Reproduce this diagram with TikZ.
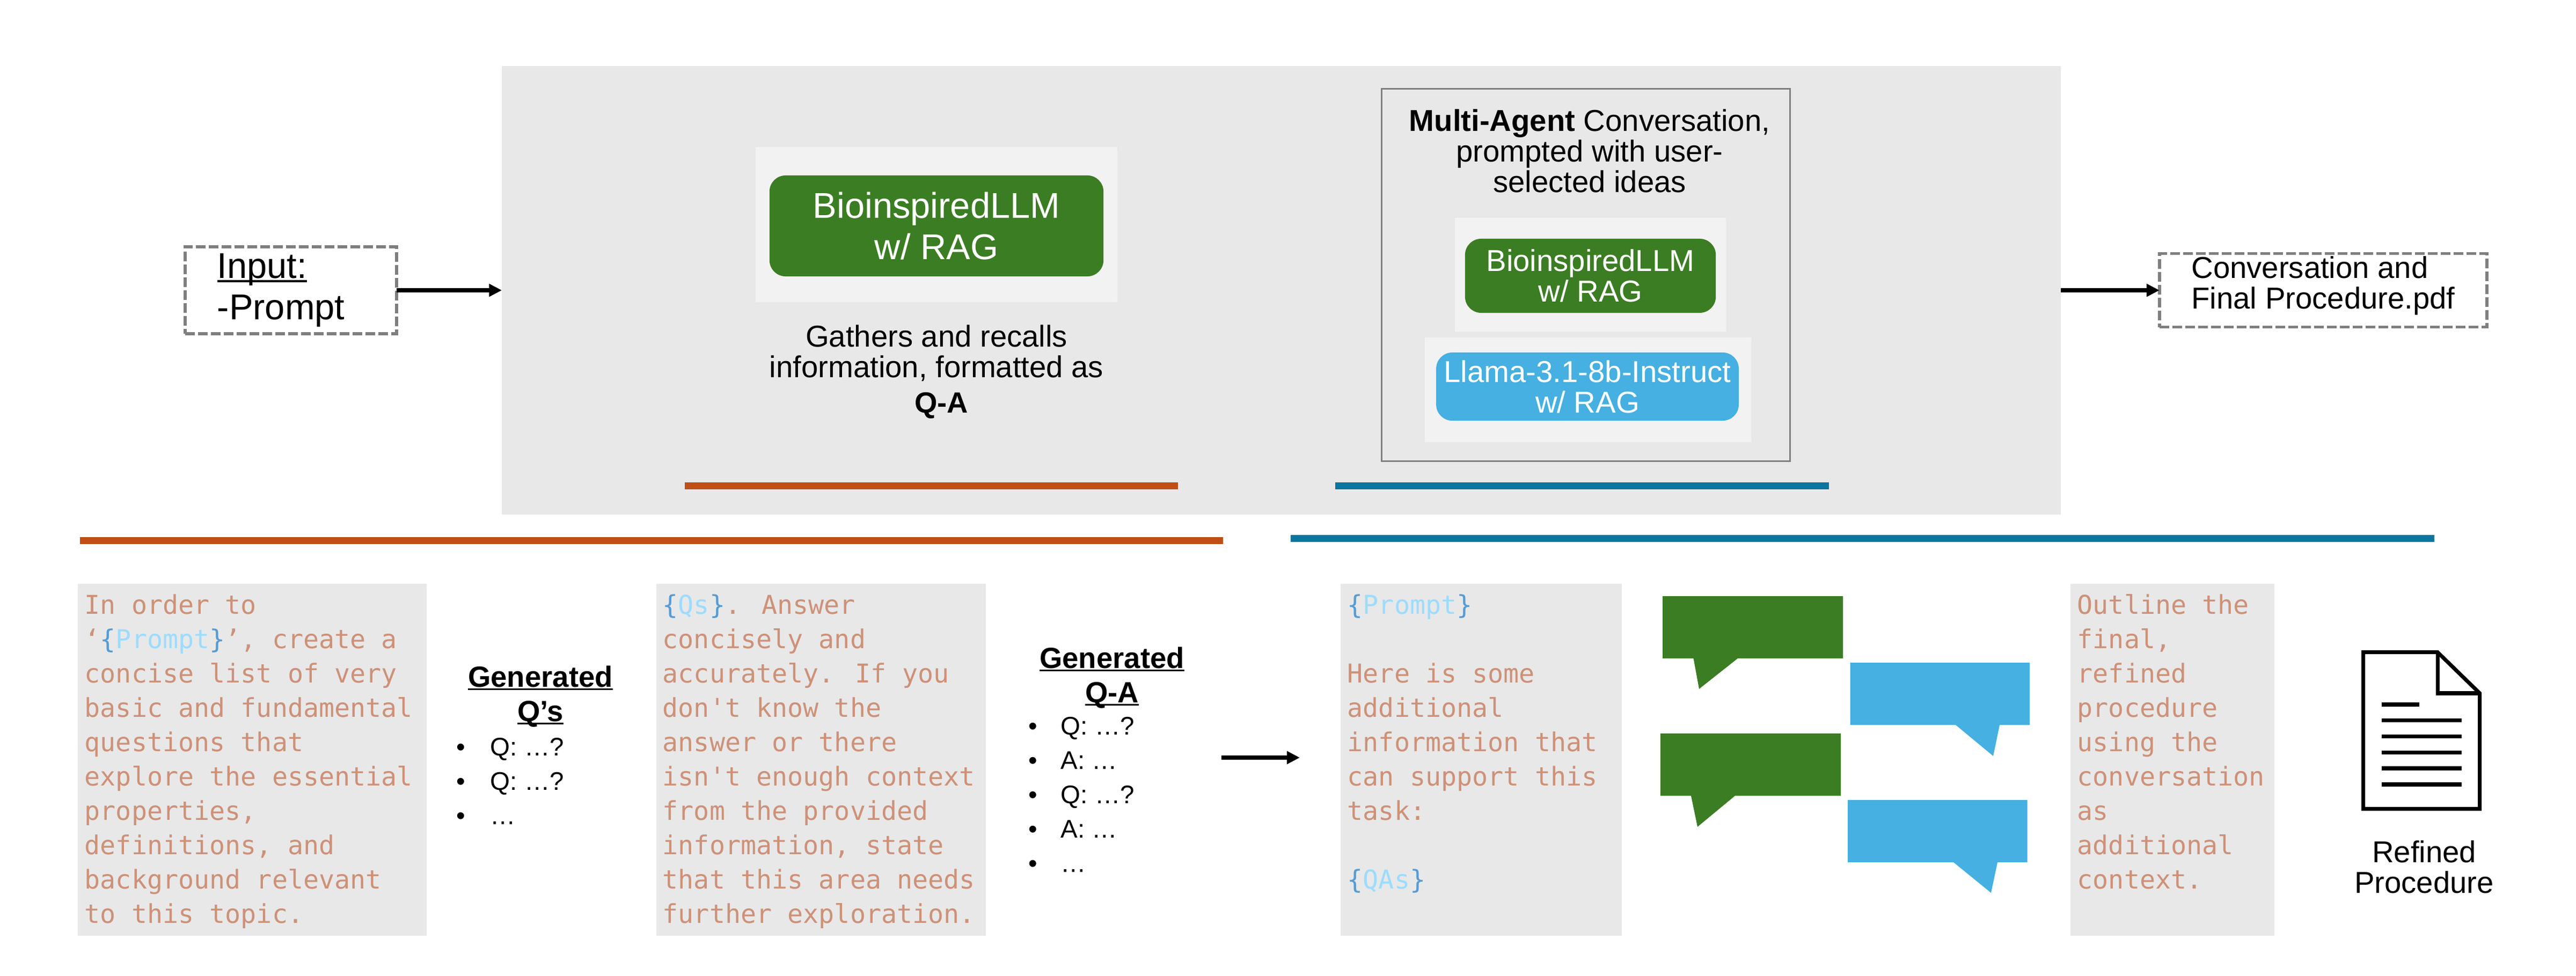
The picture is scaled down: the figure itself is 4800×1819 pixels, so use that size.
\documentclass[tikz,border=0pt]{standalone}
\usepackage{fontspec}
\setmainfont{Liberation Sans}
\newfontfamily\codefont[Ligatures=NoCommon]{DejaVu Sans Mono}
\usetikzlibrary{arrows.meta}

\definecolor{panelgrey}{HTML}{E8E8E8}
\definecolor{lightgrey}{HTML}{F2F2F2}
\definecolor{dashgrey}{HTML}{7F7F7F}
\definecolor{leafgreen}{HTML}{3B7D23}
\definecolor{skyblue}{HTML}{45B0E1}
\definecolor{rustorange}{HTML}{C04F15}
\definecolor{deepteal}{HTML}{0B769F}
\definecolor{codetext}{HTML}{CE9178}
\definecolor{codevar}{HTML}{9CDCFE}
\definecolor{codebrace}{HTML}{569CD6}

\newcommand{\codevar}[1]{\textcolor{codebrace}{\{}\textcolor{codevar}{#1}\textcolor{codebrace}{\}}}
\newcommand{\listline}[2]{\makebox[#1][l]{•}#2}
\newsavebox{\rulebox}
\newcommand{\barred}[1]{\sbox{\rulebox}{#1}\rlap{\rule[-0.11em]{\wd\rulebox}{0.065em}}\usebox{\rulebox}}

\begin{document}
\begin{tikzpicture}[
    x=0.01cm, y=-0.01cm,
    fillbox/.style={inner sep=0pt, outer sep=0pt},
    greybox/.style={fillbox, fill=panelgrey},
    lightbox/.style={fillbox, fill=lightgrey},
    modelgreen/.style={fillbox, fill=leafgreen, rounded corners=0.3cm, text=white, align=center},
    modelblue/.style={fillbox, fill=skyblue, rounded corners=0.3cm, text=white, align=center},
    dashbox/.style={draw=dashgrey, line width=1.6pt, dash pattern=on 18*0.01cm off 6*0.01cm, inner sep=0pt, outer sep=0pt},
    flowarrow/.style={line width=2pt, -{Triangle[length=6.8pt,width=6.5pt]}},
    bigtext/.style={font=\fontsize{19pt}{21.9pt}\selectfont},
    midtext/.style={font=\fontsize{16pt}{16.2pt}\selectfont},
    titletext/.style={font=\bfseries\fontsize{15.5pt}{18.2pt}\selectfont, align=center, inner sep=0pt},
    listtext/.style={font=\fontsize{13.5pt}{18.2pt}\selectfont, align=left, inner sep=0pt, anchor=north west},
    prompttext/.style={font=\codefont\fontsize{13.75pt}{18.2pt}\selectfont, text=codetext, align=left, inner sep=0pt, anchor=north west},
    bubblegreen/.style={fill=leafgreen},
    bubbleblue/.style={fill=skyblue},
    icon/.style={draw=black, line width=2pt, miter limit=10}]

\useasboundingbox (0,0) rectangle (4800,1819);

\node[greybox, minimum width=29.03cm, minimum height=8.36cm] (panel) at (2387.5,541) {};

\node[dashbox, minimum width=3.94cm, minimum height=1.62cm, text width=2.74cm, align=left, bigtext] (inputbox) at (542,541) {\barred{Input:}\\-Prompt};
\node[dashbox, minimum width=6.10cm, minimum height=1.37cm, align=left, midtext, text depth=0.28cm] (outputbox) at (4329,541) {Conversation and\\Final Procedure.pdf};

\draw[flowarrow] (inputbox.east) -- (panel.west);
\draw[flowarrow] (panel.east) -- (outputbox.west);

\node[lightbox, minimum width=6.74cm, minimum height=2.89cm] (ragback) at (1745,418.5) {};
\node[modelgreen, minimum width=6.22cm, minimum height=1.88cm, bigtext] (ragmodel) at (1745,421) {BioinspiredLLM\\w/ RAG};
\node[midtext, align=center, inner sep=0pt] (gathertext) at (1745,658) {Gathers and recalls\\information, formatted as};
\node[midtext, font=\bfseries\fontsize{15.5pt}{16pt}\selectfont, inner sep=0pt] (qatext) at (1754,756) {Q-A};

\node[draw=dashgrey, line width=0.9pt, fillbox, minimum width=7.60cm, minimum height=6.93cm] (multibox) at (2955,512.5) {};
\node[midtext, align=center, inner sep=0pt] (multitext) at (2962,281) {\textbf{Multi-Agent} Conversation,\\prompted with user-\\selected ideas};
\node[lightbox, minimum width=5.05cm, minimum height=2.12cm] (greenback) at (2963.5,512) {};
\node[modelgreen, minimum width=4.67cm, minimum height=1.38cm, midtext] (greenmodel) at (2963.5,514) {BioinspiredLLM\\w/ RAG};
\node[lightbox, minimum width=6.08cm, minimum height=1.95cm] (blueback) at (2959,726.5) {};
\node[modelblue, minimum width=5.635cm, minimum height=1.27cm, midtext] (bluemodel) at (2958,720.5) {Llama-3.1-8b-Instruct\\w/ RAG};

\node[fillbox, fill=rustorange, minimum width=9.19cm, minimum height=0.13cm] (qabar) at (1735.5,905.5) {};
\node[fillbox, fill=deepteal, minimum width=9.20cm, minimum height=0.13cm] (chatbar) at (2948,905.5) {};
\node[fillbox, fill=rustorange, minimum width=21.28cm, minimum height=0.13cm] (leftrule) at (1214,1007.5) {};
\node[fillbox, fill=deepteal, minimum width=21.29cm, minimum height=0.13cm] (rightrule) at (3470.5,1003.5) {};

\node[greybox, minimum width=6.50cm, minimum height=6.56cm] (askback) at (470,1416) {};
\node[greybox, minimum width=6.14cm, minimum height=6.56cm] (answerback) at (1530,1416) {};
\node[greybox, minimum width=5.24cm, minimum height=6.56cm] (promptback) at (2760,1416) {};
\node[greybox, minimum width=3.80cm, minimum height=6.56cm] (finalback) at (4048,1416) {};

\node[prompttext] (asktext) at (157,1107) {In order to\\‘\codevar{Prompt}’, create a\\concise list of very\\basic and fundamental\\questions that\\explore the essential\\properties,\\definitions, and\\background relevant\\to this topic.};
\node[prompttext] (answertext) at (1234,1107) {\codevar{Qs}. Answer\\concisely and\\accurately. If you\\don't know the\\answer or there\\isn't enough context\\from the provided\\information, state\\that this area needs\\further exploration.};
\node[prompttext] (prompttext) at (2510,1107) {\codevar{Prompt}\\\mbox{}\\Here is some\\additional\\information that\\can support this\\task:\\\mbox{}\\\codevar{QAs}};
\node[prompttext] (finaltext) at (3870,1107) {Outline the\\final,\\refined\\procedure\\using the\\conversation\\as\\additional\\context.};

\node[titletext] (qstitle) at (1007,1298) {\barred{Generated}\\\barred{Q’s}};
\node[listtext] (qslist) at (850,1375) {\listline{0.63cm}{Q: …?}\\\listline{0.63cm}{Q: …?}\\\listline{0.63cm}{…}};
\node[titletext] (qatitle) at (2072,1263) {\barred{Generated}\\\barred{Q-A}};
\node[listtext] (qalist) at (1916,1336) {\listline{0.60cm}{Q: …?}\\\listline{0.60cm}{A: …}\\\listline{0.60cm}{Q: …?}\\\listline{0.60cm}{A: …}\\\listline{0.60cm}{…}};

\coordinate (midstart) at (2276,1412);
\coordinate (midend) at (2422,1412);
\draw[flowarrow] (midstart) -- (midend);

\fill[bubblegreen] (3098,1111) -- (3434,1111) -- (3434,1227) -- (3238,1227) -- (3166,1284) -- (3155.5,1227) -- (3098,1227) -- cycle;
\fill[bubbleblue] (3447.5,1235) -- (3782,1235) -- (3782,1351) -- (3726,1351) -- (3714,1409) -- (3644,1351) -- (3447.5,1351) -- cycle;
\fill[bubblegreen] (3094,1367) -- (3430,1367) -- (3430,1483) -- (3233,1483) -- (3163,1541) -- (3151,1483) -- (3094,1483) -- cycle;
\fill[bubbleblue] (3443,1491) -- (3777.5,1491) -- (3777.5,1607) -- (3722,1607) -- (3710,1664) -- (3640,1607) -- (3443,1607) -- cycle;

\draw[icon] (4403.5,1215.5) -- (4542,1215.5) -- (4620.5,1292) -- (4620.5,1507.5) -- (4403.5,1507.5) -- cycle;
\draw[icon] (4542,1215.5) -- (4542,1292) -- (4620.5,1292);
\draw[icon] (4438,1313) -- (4508,1313);
\draw[icon] (4438,1342.5) -- (4587,1342.5);
\draw[icon] (4438,1372.5) -- (4587,1372.5);
\draw[icon] (4438,1402.5) -- (4587,1402.5);
\draw[icon] (4438,1432) -- (4587,1432);
\draw[icon] (4438,1462) -- (4587,1462);

\node[midtext, align=center, inner sep=0pt] (refinedtext) at (4517,1616) {Refined\\Procedure};

\end{tikzpicture}
\end{document}
